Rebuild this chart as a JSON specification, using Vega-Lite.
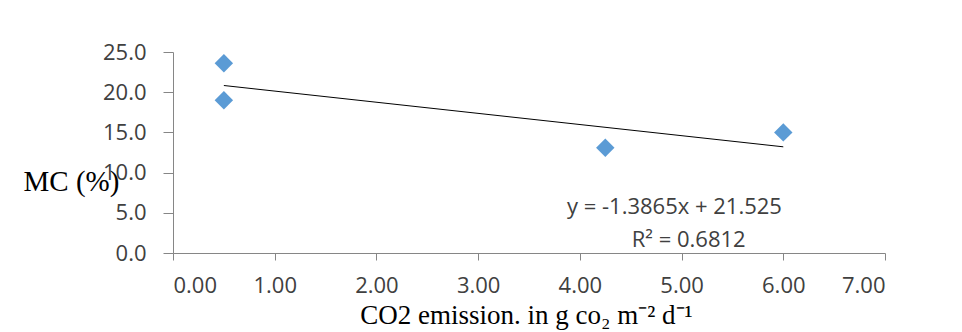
{
  "$schema": "https://vega.github.io/schema/vega-lite/v6.json",
  "autosize": {"type": "none"},
  "width": 712,
  "height": 201,
  "padding": {"left": 173, "top": 52, "right": 77, "bottom": 79},
  "background": "white",
  "config": {"view": {"stroke": null}},
  "datasets": {
    "points": [
      {"co2": 0.5, "mc": 23.6},
      {"co2": 0.5, "mc": 19.0},
      {"co2": 4.25, "mc": 13.1},
      {"co2": 6.0, "mc": 15.0}
    ],
    "trend": [
      {"co2": 0.5, "mc": 20.832},
      {"co2": 6.0, "mc": 13.206}
    ],
    "labels": [
      {"co2": 4.93, "mc": 5.72, "label": "y = -1.3865x + 21.525"},
      {"co2": 5.07, "mc": 1.62, "label": "R² = 0.6812"}
    ]
  },
  "layer": [
    {
      "data": {"name": "trend"},
      "mark": {"type": "line", "color": "black", "strokeWidth": 1},
      "encoding": {
        "x": {
          "field": "co2", "type": "quantitative",
          "scale": {"domain": [0, 7], "nice": false, "zero": false},
          "axis": {
            "values": [0, 1, 2, 3, 4, 5, 6, 7],
            "format": ".2f",
            "grid": false,
            "domainColor": "#868686",
            "tickColor": "#868686",
            "tickSize": 7,
            "labelPadding": 15,
            "labelFont": "Open Sans",
            "labelFontSize": 22,
            "labelColor": "#404040",
            "title": "CO2 emission. in g co₂ m⁻² d⁻¹",
            "titleFont": "Liberation Serif",
            "titleFontSize": 27,
            "titleFontWeight": "normal",
            "titleColor": "black",
            "titleX": 353,
            "titleY": 70,
            "titleAlign": "center",
            "titleBaseline": "alphabetic"
          }
        },
        "y": {
          "field": "mc", "type": "quantitative",
          "scale": {"domain": [0, 25], "nice": false},
          "axis": {
            "values": [0, 5, 10, 15, 20, 25],
            "format": ".1f",
            "grid": false,
            "domainColor": "#868686",
            "tickColor": "#868686",
            "tickSize": 10,
            "labelPadding": 17,
            "labelFont": "Open Sans",
            "labelFontSize": 22,
            "labelColor": "#404040",
            "title": "MC (%)",
            "titleFont": "Liberation Serif",
            "titleFontSize": 29,
            "titleFontWeight": "normal",
            "titleColor": "black",
            "titleAngle": 0,
            "titleX": -102,
            "titleY": 138,
            "titleAlign": "center",
            "titleBaseline": "alphabetic"
          }
        }
      }
    },
    {
      "data": {"name": "points"},
      "mark": {"type": "point", "shape": "diamond", "filled": true, "color": "#5B9BD5", "opacity": 1, "size": 340},
      "encoding": {
        "x": {"field": "co2", "type": "quantitative"},
        "y": {"field": "mc", "type": "quantitative"}
      }
    },
    {
      "data": {"name": "labels"},
      "mark": {"type": "text", "font": "Open Sans", "fontSize": 22, "color": "#404040", "align": "center", "baseline": "middle"},
      "encoding": {
        "x": {"field": "co2", "type": "quantitative"},
        "y": {"field": "mc", "type": "quantitative"},
        "text": {"field": "label"}
      }
    }
  ]
}
